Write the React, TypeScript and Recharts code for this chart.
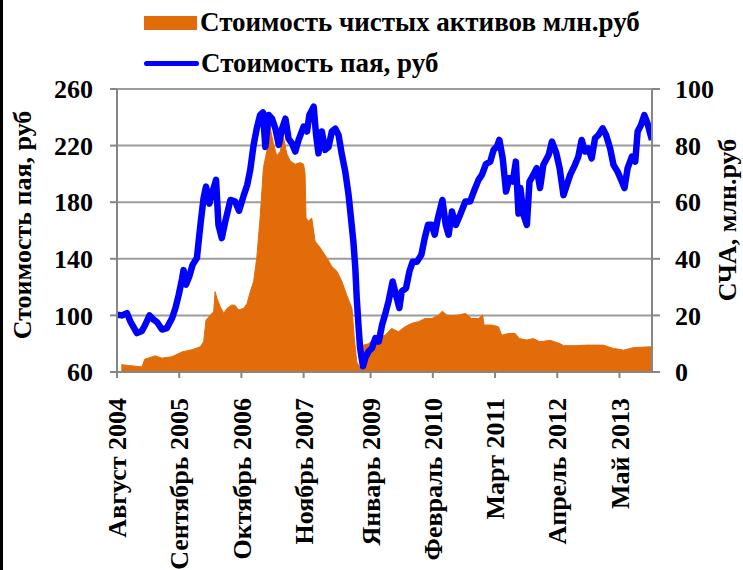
import { ComposedChart, Line, Area, XAxis, YAxis, CartesianGrid, Label } from 'recharts';

const FONT = '"Liberation Serif", "Times New Roman", serif';
const ORANGE = '#E36C0A';
const BLUE = '#0000FF';
const AXIS = '#868686';
const GRID = '#9C9C9C';

// x positions are months counted from August 2004
const xTickMonths = [0, 13, 26, 39, 53, 66, 79, 92, 105];
const xTickLabels = [
  'Август 2004', 'Сентябрь 2005', 'Октябрь 2006', 'Ноябрь 2007', 'Январь 2009',
  'Февраль 2010', 'Март 2011', 'Апрель 2012', 'Май 2013',
];
const priceTicks = [60, 100, 140, 180, 220, 260];
const navTicks = [0, 20, 40, 60, 80, 100];

// Стоимость пая, руб (left axis)
const priceMonths = [
  0, 1.0, 2.08, 2.78, 4.17, 5.2, 5.9, 6.8, 7.65, 8.35,
  9.4, 10.4, 11.5, 12.2, 12.9, 13.6, 13.9, 14.4, 15.1, 15.8,
  16.7, 17.05, 17.5, 18.1, 18.6, 19.3, 19.84, 20.7, 21.2, 21.9,
  22.6, 23.7, 24.7, 25.5, 26.5, 27.2, 27.85, 28.55, 29.2, 29.9,
  30.5, 31.0, 31.7, 32.4, 33.1, 33.8, 34.5, 35.2, 35.85, 36.55,
  37.25, 37.95, 39.0, 39.7, 40.2, 41.1, 41.6, 42.1, 42.8, 43.5,
  44.2, 44.9, 45.6, 46.3, 47.0, 47.7, 48.4, 48.75, 49.4, 49.8,
  50.1, 50.5, 50.8, 51.4, 51.9, 52.6, 53.3, 54.0, 54.7, 55.4,
  56.05, 56.75, 57.6, 58.1, 59.0, 59.5, 60.4, 61.1, 61.8, 62.7,
  63.6, 64.3, 65.0, 65.8, 66.4, 67.05, 68.0, 68.7, 69.3, 70.0,
  70.8, 71.7, 72.8, 73.8, 74.5, 75.55, 76.25, 77.1, 78.0, 78.7,
  79.4, 79.9, 80.6, 81.3, 82.0, 82.7, 83.35, 83.9, 84.3, 84.95,
  85.65, 86.2, 87.0, 87.7, 88.4, 89.1, 90.2, 90.9, 91.8, 92.5,
  93.3, 94.0, 94.7, 95.7, 96.4, 97.1, 97.8, 98.5, 99.2, 99.9,
  100.6, 101.5, 102.2, 103.05, 103.75, 104.6, 105.5, 106.05, 106.7, 107.6,
  108.3, 108.8, 109.5, 110.2, 110.85, 111.4, 111.8,
];
const priceValues = [
  100.5, 100, 101.6, 95.8, 87.5, 89, 93.4, 100, 97, 95.3,
  90, 91, 98, 105, 114.6, 126, 132, 121.6, 127.5, 135.8,
  140.5, 152, 166, 183, 191, 179, 186, 195.8, 164, 154.6,
  166, 181.6, 180.5, 174, 185, 192, 203, 220.5, 232, 241.6,
  243.5, 219, 241.6, 239, 232, 220.5, 232, 239, 225, 221.6,
  215.8, 224, 233.4, 230, 241.6, 247.5, 227.6, 214.6, 230, 217,
  219, 230, 232, 227.5, 213.4, 201.6, 185, 173.4, 152, 133.4,
  112.2, 91, 77, 64, 70, 74.6, 77, 84, 81.6, 93.4,
  101, 110, 124, 117, 105.2, 117, 119.3, 131, 138, 138,
  142.8, 154.6, 164, 164, 157, 168.7, 181.6, 164, 157, 173.4,
  164, 171, 180.5, 180.5, 187, 195.8, 199.3, 207, 208.7, 217,
  219.3, 224, 211, 187.5, 197, 194.6, 208.7, 172, 190, 171,
  164, 194.6, 199.3, 204, 190, 206.4, 213.4, 222.8, 214.6, 204,
  185, 192.2, 199.3, 206.4, 212.2, 224, 215.8, 218, 211, 225.2,
  227.5, 232.2, 227.5, 218, 206.4, 201.6, 194.6, 190, 204, 212.2,
  208.7, 230, 234.6, 241.6, 235.8, 228.7, 224,
];

// Стоимость чистых активов млн.руб (right axis)
const navMonths = [
  0.9, 2.4, 5.2, 5.8, 8.0, 9.4, 11.5, 13.6, 15.7, 17.4,
  18.1, 18.6, 19.5, 20.2, 20.5, 20.9, 21.6, 22.3, 23.0, 24.0,
  24.7, 25.4, 26.5, 27.2, 27.85, 28.55, 29.2, 29.9, 30.6, 31.3,
  32.0, 32.7, 33.4, 34.1, 34.8, 35.5, 36.2, 37.25, 38.3, 39.0,
  39.3, 39.5, 40.0, 40.7, 41.4, 42.5, 43.9, 44.9, 46.0, 47.0,
  48.0, 49.1, 49.6, 50.1, 50.8, 51.5, 52.6, 53.6, 54.7, 56.05,
  57.4, 58.8, 60.2, 61.6, 63.0, 64.4, 65.8, 67.2, 68.0, 68.9,
  70.0, 71.4, 72.8, 74.1, 75.55, 76.4, 76.7, 78.3, 79.7, 80.4,
  81.8, 83.2, 84.1, 85.6, 87.0, 88.4, 90.5, 92.6, 93.3, 96.1,
  98.2, 101.6, 103.75, 105.1, 105.8, 107.9, 111.4, 111.8,
];
const navValues = [
  2.6, 2.3, 1.8, 4.5, 5.7, 4.9, 5.4, 7.1, 7.9, 8.9,
  10.7, 18.3, 20.1, 21.3, 28.4, 26, 23, 20.7, 22.5, 23.7,
  23.5, 21.9, 22.5, 24.3, 28.4, 32, 40.2, 54.4, 72.2, 78,
  86.4, 80.5, 76.3, 78, 82.8, 77, 74.6, 73.4, 74, 73.4,
  70, 54.4, 53.3, 54.4, 46.2, 43.8, 40.2, 37.3, 35.5, 32,
  27.2, 22.5, 11.8, 3.6, 1.2, 9.5, 10, 11.8, 12.4, 13,
  15.4, 14.2, 16, 17.2, 17.8, 18.9, 18.9, 20.1, 21.5, 20.1,
  19.9, 20.1, 20.7, 18.9, 18.9, 20.1, 16.6, 16.6, 16, 13,
  13.6, 13.6, 11.8, 11.3, 11.8, 10.7, 11.2, 10, 9.3, 9.3,
  9.5, 9.5, 8.3, 8.0, 7.7, 8.6, 8.9, 8.9,
];

const priceData = priceMonths.map((t, i) => ({ t, price: priceValues[i] }));
const navData = navMonths.map((t, i) => ({ t, nav: navValues[i] }));

const textStyle = { fontFamily: FONT, fontWeight: 'bold', fontSize: 26, fill: '#000' };

const MonthTick = (props: any) => {
  const { x, y, payload } = props;
  const label = xTickLabels[xTickMonths.indexOf(payload.value)];
  return (
    <text x={x} y={y} dy="0.35em" textAnchor="end" transform={`rotate(-90, ${x}, ${y})`} {...textStyle}>
      {label}
    </text>
  );
};

// legend drawn over the chart so it does not push the plot area down
const LegendBox = () => (
  <div style={{ position: 'absolute', top: 2, left: 144, fontFamily: FONT, fontWeight: 'bold', fontSize: 27, color: '#000' }}>
    <div style={{ display: 'flex', alignItems: 'center', height: 41 }}>
      <span style={{ width: 53, height: 14, background: ORANGE, marginRight: 3 }} />
      <span>Стоимость чистых активов млн.руб</span>
    </div>
    <div style={{ display: 'flex', alignItems: 'center', height: 41 }}>
      <span style={{ width: 55, height: 5, borderRadius: 3, background: BLUE, marginRight: 2 }} />
      <span>Стоимость пая, руб</span>
    </div>
  </div>
);

const App = () => {
  return (
    <div style={{ position: 'relative', width: 743, height: 570, background: '#fff' }}>
      <style>{'body{margin:0}'}</style>
      <ComposedChart width={743} height={570} margin={{ top: 89, right: 0, bottom: 0, left: 0 }}>
        <CartesianGrid yAxisId="left" horizontal vertical={false} stroke={GRID} strokeWidth={2} />
        <XAxis
          type="number"
          dataKey="t"
          domain={[0, 111.8]}
          ticks={xTickMonths}
          allowDataOverflow
          height={198}
          stroke={AXIS}
          strokeWidth={2}
          tickSize={6}
          tickMargin={20}
          tick={<MonthTick />}
          interval={0}
        />
        <YAxis
          yAxisId="left"
          domain={[60, 260]}
          ticks={priceTicks}
          width={117}
          stroke={AXIS}
          strokeWidth={2}
          tickSize={7}
          tickMargin={17}
          tick={textStyle}
        >
          <Label
            content={() => (
              <text x={22} y={225} textAnchor="middle" dy="0.35em" transform="rotate(-90, 22, 225)" {...textStyle}>
                Стоимость пая, руб
              </text>
            )}
          />
        </YAxis>
        <YAxis
          yAxisId="right"
          orientation="right"
          domain={[0, 100]}
          ticks={navTicks}
          width={91}
          stroke={AXIS}
          strokeWidth={2}
          tickSize={8}
          tickMargin={15}
          tick={{ ...textStyle, textAnchor: 'start' }}
        >
          <Label
            content={() => (
              <text x={727} y={220} textAnchor="middle" dy="0.35em" transform="rotate(-90, 727, 220)" {...textStyle}>
                СЧА, млн.руб
              </text>
            )}
          />
        </YAxis>
        <Area
          yAxisId="right"
          data={navData}
          dataKey="nav"
          type="linear"
          fill={ORANGE}
          fillOpacity={1}
          stroke={ORANGE}
          strokeWidth={1}
          isAnimationActive={false}
        />
        <Line
          yAxisId="left"
          data={priceData}
          dataKey="price"
          type="linear"
          stroke={BLUE}
          strokeWidth={6.5}
          strokeLinejoin="round"
          dot={false}
          isAnimationActive={false}
        />
      </ComposedChart>
      <LegendBox />
      <div style={{ position: 'absolute', left: 0, top: 0, width: 3, height: 570, background: '#000' }} />
    </div>
  );
};

export default App;
